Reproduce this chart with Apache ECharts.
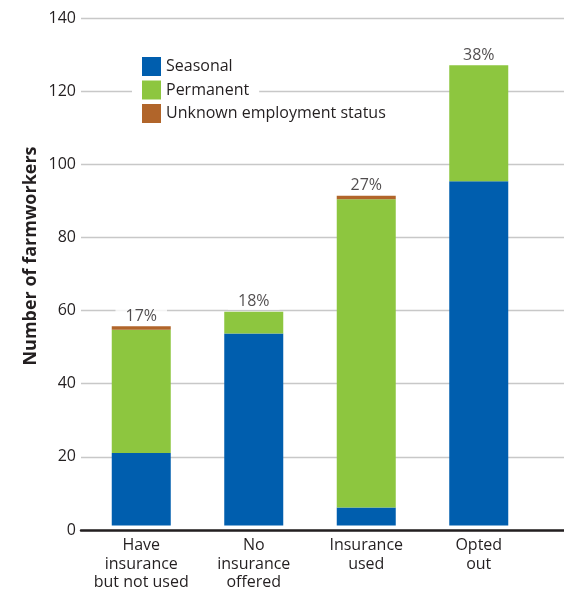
<!DOCTYPE html>
<html>
<head>
<meta charset="utf-8">
<script src="https://cdn.jsdelivr.net/npm/echarts@6/dist/echarts.min.js"></script>
<style>html,body{margin:0;padding:0;background:#fff}#c{width:564px;height:592px}</style>
</head>
<body>
<div id="c"></div>
<script>
var categories = ['Have\ninsurance\nbut not used', 'No\ninsurance\noffered', 'Insurance\nused', 'Opted\nout'];
var seasonal = [20, 53, 5, 95];
var permanent = [34, 6, 85, 32];
var unknown = [1, 0, 1, 0];
var percentLabels = ['17%', '18%', '27%', '38%'];
var yTicks = [0, 20, 40, 60, 80, 100, 120, 140];
var seriesNames = ['Seasonal', 'Permanent', 'Unknown employment status'];
var colors = ['#005eae', '#8dc63f', '#b1652a'];

var FONT = 'Open Sans';
var totals = categories.map(function (c, i) { return seasonal[i] + permanent[i] + unknown[i]; });

var chart = echarts.init(document.getElementById('c'), null, {renderer: 'canvas'});

var legends = seriesNames.map(function (n, i) {
  return {
    data: [n],
    left: 132,
    top: 55 + i * 23.5,
    orient: 'vertical',
    backgroundColor: '#fff',
    padding: [2, 10, 2, 10],
    icon: 'rect',
    itemWidth: 19,
    itemHeight: 19,
    selectedMode: false,
    textStyle: {fontFamily: FONT, fontSize: 16, color: '#231f20'}
  };
});

var option = {
  animation: false,
  backgroundColor: '#fff',
  color: colors,
  legend: legends,
  grid: [
    {left: 81, right: 0, top: 18, bottom: 62},
    {left: 85, right: 29, top: 18, bottom: 62}
  ],
  xAxis: [
    {gridIndex: 0, type: 'value', min: 0, max: 1,
     axisLine: {show: true, onZero: false, lineStyle: {color: '#231f20', width: 2.5}},
     axisTick: {show: false}, axisLabel: {show: false}, splitLine: {show: false}},
    {gridIndex: 1, type: 'category', data: categories,
     axisLine: {show: false}, axisTick: {show: false},
     axisLabel: {fontFamily: FONT, fontSize: 16, color: '#231f20', lineHeight: 18.5, margin: 11, interval: 0}}
  ],
  yAxis: [
    {gridIndex: 0, type: 'value', min: 0, max: 140, interval: 20,
     axisLine: {show: false}, axisTick: {show: false},
     axisLabel: {fontFamily: FONT, fontSize: 16, color: '#231f20', margin: 5,
       formatter: function (v) { return yTicks.indexOf(v) >= 0 ? String(v) : ''; }},
     splitLine: {lineStyle: {color: '#c8c8c8', width: 1.3}}},
    {gridIndex: 1, type: 'value', min: 0, max: 140, interval: 20, show: false}
  ],
  graphic: [{
    type: 'text',
    x: 31, y: 256,
    rotation: Math.PI / 2,
    style: {text: 'Number of farmworkers', fontFamily: FONT, fontSize: 18, fontWeight: 'bold',
            fill: '#231f20', align: 'center', verticalAlign: 'middle'}
  }],
  series: [
    {name: seriesNames[0], type: 'bar', stack: 's', xAxisIndex: 1, yAxisIndex: 1, data: seasonal, barWidth: 59, itemStyle: {color: colors[0]}},
    {name: seriesNames[1], type: 'bar', stack: 's', xAxisIndex: 1, yAxisIndex: 1, data: permanent, barWidth: 59, itemStyle: {color: colors[1]}},
    {name: seriesNames[2], type: 'bar', stack: 's', xAxisIndex: 1, yAxisIndex: 1, data: unknown, barWidth: 59, itemStyle: {color: colors[2]}},
    {type: 'scatter', xAxisIndex: 1, yAxisIndex: 1, symbolSize: 0, silent: true,
     data: totals.map(function (t, i) { return [i, t]; }),
     label: {show: true, position: 'top', distance: 2,
       formatter: function (p) { return percentLabels[p.dataIndex]; },
       fontFamily: FONT, fontSize: 16, color: '#231f20',
       backgroundColor: '#fff', padding: [0, 10, 0, 10]}}
  ]
};
chart.setOption(option);
</script>
</body>
</html>
